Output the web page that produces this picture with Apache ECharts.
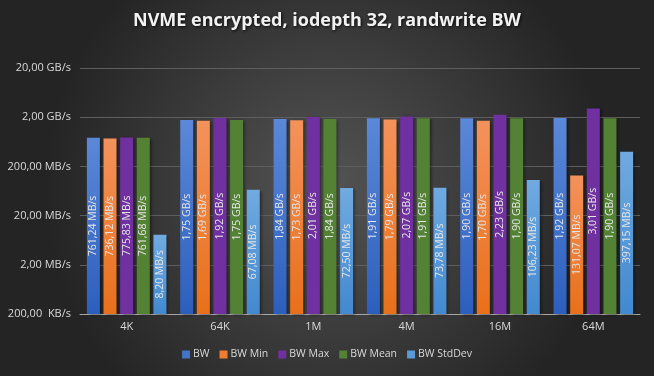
<!DOCTYPE html>
<html>
<head>
<meta charset="utf-8">
<script src="https://cdn.jsdelivr.net/npm/echarts@6/dist/echarts.min.js"></script>
<style>
  html, body { margin: 0; padding: 0; }
  #chart { width: 654px; height: 376px; }
</style>
</head>
<body>
<div id="chart"></div>
<script>
// values in MB/s
const categories = ["4K", "64K", "1M", "4M", "16M", "64M"];
const bw = [761.24, 1750, 1840, 1910, 1900, 1920];
const bwMin = [736.12, 1690, 1730, 1790, 1700, 131.07];
const bwMax = [775.83, 1920, 2010, 2070, 2230, 3010];
const bwMean = [761.68, 1750, 1840, 1910, 1900, 1900];
const bwStdDev = [8.20, 67.08, 72.50, 73.78, 106.23, 397.15];
const seriesNames = ["BW", "BW Min", "BW Max", "BW Mean", "BW StdDev"];

// axis unit: 1 = 200 KB/s, so the log axis starts at 1
const UNIT = 0.2;

const fmt = (mb, sep) => {
  let v, u;
  if (mb < 1) { v = mb * 1000; u = "KB/s"; }
  else if (mb < 1000) { v = mb; u = "MB/s"; }
  else { v = mb / 1000; u = "GB/s"; }
  return v.toFixed(2).replace(".", ",") + (sep || " ") + u;
};

const grad = (top, bottom) => new echarts.graphic.LinearGradient(0, 0, 0, 1, [
  { offset: 0, color: top },
  { offset: 1, color: bottom },
]);

const colors = [
  grad("#5b88d8", "#2c5fbd"),
  grad("#f4925c", "#e8701a"),
  "#7030a0",
  "#548235",
  grad("#70aae0", "#4289d0"),
];
const legendColors = ["#4472c4", "#ed7d31", "#7030a0", "#548235", "#5b9bd5"];

const dataSets = [bw, bwMin, bwMax, bwMean, bwStdDev];

const chart = echarts.init(document.getElementById("chart"), null, { renderer: "canvas" });

const option = {
  backgroundColor: new echarts.graphic.RadialGradient(0.5, 0.5, 0.75, [
    { offset: 0, color: "#545454" },
    { offset: 1, color: "#242424" },
  ]),
  title: {
    text: "NVME encrypted, iodepth 32, randwrite BW",
    left: "center",
    top: 7,
    textStyle: {
      color: "#f2f2f2",
      fontFamily: "Open Sans",
      fontWeight: "bold",
      fontSize: 18,
      textShadowColor: "rgba(0,0,0,0.8)",
      textShadowBlur: 3,
      textShadowOffsetX: 1,
      textShadowOffsetY: 1,
    },
  },
  legend: {
    bottom: 11,
    left: "center",
    itemWidth: 8,
    itemHeight: 8,
    itemGap: 10,
    icon: "rect",
    textStyle: { color: "#d9d9d9", fontSize: 10.5, fontFamily: "Open Sans", padding: [0, 0, 0, -2] },
    data: seriesNames.map((n, i) => ({ name: n, itemStyle: { color: legendColors[i] } })),
  },
  grid: {
    left: 80,
    right: 14,
    top: 68,
    bottom: 62,
  },
  xAxis: {
    type: "category",
    data: categories,
    axisLine: { lineStyle: { color: "#a6a6a6", width: 1 } },
    axisTick: { show: false },
    axisLabel: { color: "#d9d9d9", fontSize: 11, fontFamily: "Open Sans", margin: 7 },
  },
  yAxis: {
    type: "log",
    logBase: 10,
    min: 1,
    max: 100000,
    axisLine: { show: false },
    axisTick: { show: false },
    splitLine: { lineStyle: { color: "#5e5e5e" } },
    axisLabel: {
      color: "#d9d9d9",
      fontSize: 11,
      fontFamily: "Open Sans",
      margin: 9,
      formatter: (v) => fmt(v * UNIT, v * UNIT < 1 ? "  " : " "),
    },
  },
  series: dataSets.map((d, i) => ({
    name: seriesNames[i],
    type: "bar",
    barWidth: 13,
    barGap: "28%",
    data: d.map((v) => v / UNIT),
    itemStyle: {
      color: colors[i],
      shadowColor: "rgba(0,0,0,0.45)",
      shadowBlur: 3,
      shadowOffsetX: 2,
      shadowOffsetY: 1,
    },
    label: {
      show: true,
      position: "inside",
      rotate: 90,
      color: "#e6e6e6",
      fontSize: 10.5,
      fontFamily: "Open Sans",
      formatter: (p) => fmt(p.value * UNIT),
    },
  })),
};

chart.setOption(option);
</script>
</body>
</html>
